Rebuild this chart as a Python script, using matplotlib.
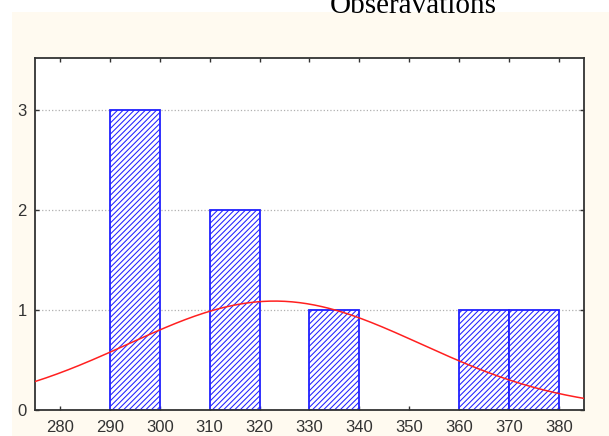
import numpy as np
import matplotlib
matplotlib.use("Agg")
import matplotlib.pyplot as plt
from matplotlib.patches import Rectangle

# histogram bins (left edge) and counts
bin_left = [290, 310, 330, 360, 370]
counts = [3, 2, 1, 1, 1]
bin_width = 10

# fitted normal curve parameters
fit_mean = 323.0
fit_sd = 29.3
n_obs = sum(counts)

x_ticks = [280, 290, 300, 310, 320, 330, 340, 350, 360, 370, 380]
y_ticks = [0, 1, 2, 3]

W, H = 609, 436
fig = plt.figure(figsize=(W / 100, H / 100), dpi=100, facecolor="white")

# cream background panel
fig.patches.append(Rectangle((12 / W, 0), 1, 1 - 12 / H, transform=fig.transFigure,
                             facecolor="#FFFAF0", edgecolor="none", zorder=-5))

ax = fig.add_axes([35 / W, 1 - 410 / H, (584 - 35) / W, (410 - 58) / H])
ax.set_facecolor("white")

plt.rcParams["hatch.linewidth"] = 0.75
ax.bar(bin_left, counts, width=bin_width, align="edge", facecolor="white",
       edgecolor="#2020ff", hatch="//////", linewidth=1.3, zorder=2)

xs = np.linspace(275, 385, 300)
ys = n_obs * bin_width * np.exp(-0.5 * ((xs - fit_mean) / fit_sd) ** 2) / (fit_sd * np.sqrt(2 * np.pi))
ax.plot(xs, ys, color="#ff2020", linewidth=1.1, zorder=3)

ax.set_xlim(275, 385)
ax.set_ylim(0, 3.52)
ax.set_xticks(x_ticks)
ax.set_yticks(y_ticks)
ax.yaxis.grid(True, linestyle=":", color="#b0b0b0", linewidth=0.9, zorder=1)
ax.set_axisbelow(True)

for s in ax.spines.values():
    s.set_color("#333333")
    s.set_linewidth(1.3)

ax.tick_params(axis="both", direction="in", length=3, width=1, color="#333333",
               top=True, right=True, labelsize=12, labelcolor="#333333")
ax.tick_params(axis="x", pad=7)
ax.tick_params(axis="y", pad=6)
for lab in ax.get_xticklabels() + ax.get_yticklabels():
    lab.set_family("Liberation Sans")

fig.text(413 / W, 1 - 13 / H, "Obseravations", family="Liberation Serif",
         fontsize=21, ha="center", va="baseline", color="black")

fig.savefig("out.png", dpi=100, facecolor="white")
